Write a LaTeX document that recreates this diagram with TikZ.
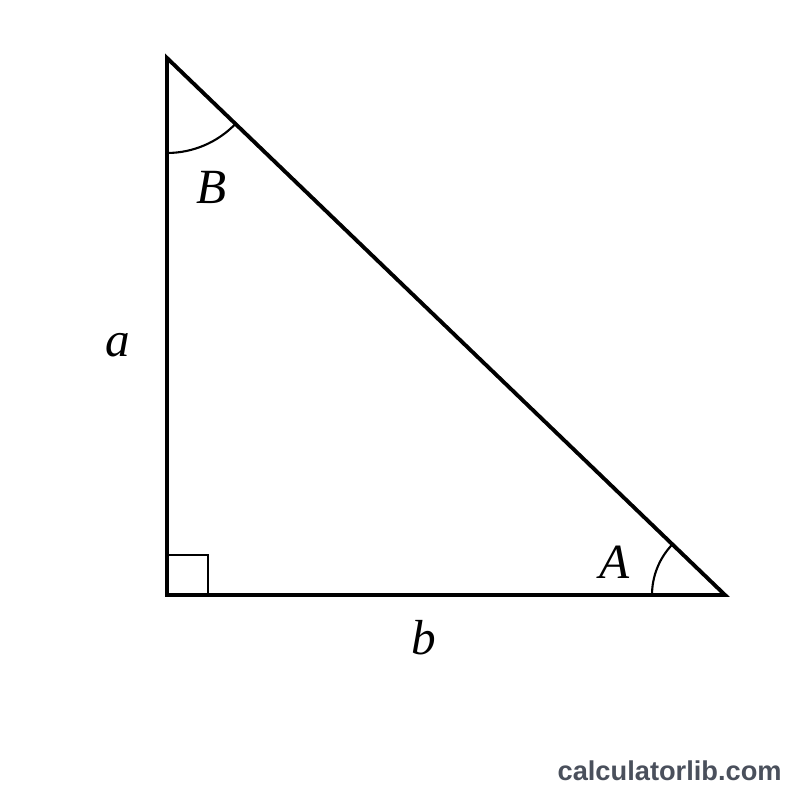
\documentclass[tikz,border=0pt]{standalone}
\usepackage{fontspec}
\setmainfont{Liberation Serif}
\newfontfamily\wmfont{Liberation Sans}
\definecolor{wmgray}{HTML}{4A505C}

\begin{document}
\begin{tikzpicture}[
    side/.style={line width=2.2pt, line join=miter, line cap=rect},
    anglemark/.style={line width=1.2pt},
    rightmark/.style={line width=1.1pt},
    lbl/.style={font=\fontsize{28}{30}\selectfont\itshape, inner sep=0pt}
  ]
  \useasboundingbox (0,0) rectangle (16,16);
  % vertices
  \coordinate (C) at (3.34,4.1);
  \coordinate (B) at (3.34,14.84);
  \coordinate (A) at (14.5,4.1);
  % triangle
  \draw[side] (B) -- (C) -- (A) -- cycle;
  % angle marks
  \draw[anglemark] (B) ++(270:1.9) arc[start angle=270, end angle=316.1, radius=1.9];
  \draw[anglemark] (A) ++(180:1.46) arc[start angle=180, end angle=136.1, radius=1.46];
  \draw[rightmark] (C) ++(0,0.8) -| ++(0.82,-0.8);
  % labels
  \path (4.24,12.26) node(lB) [lbl] {B}
  (2.36,9.1) node(la) [lbl] {a}
  (8.48,3.24) node(lb) [lbl] {b}
  (12.3,4.76) node(lA) [lbl] {A};
  \node(wm) [anchor=base east, inner sep=0pt, text=wmgray,
    font=\wmfont\bfseries\fontsize{15.5}{17}\selectfont] at (15.64,0.38) {calculatorlib.com};
\end{tikzpicture}
\end{document}
